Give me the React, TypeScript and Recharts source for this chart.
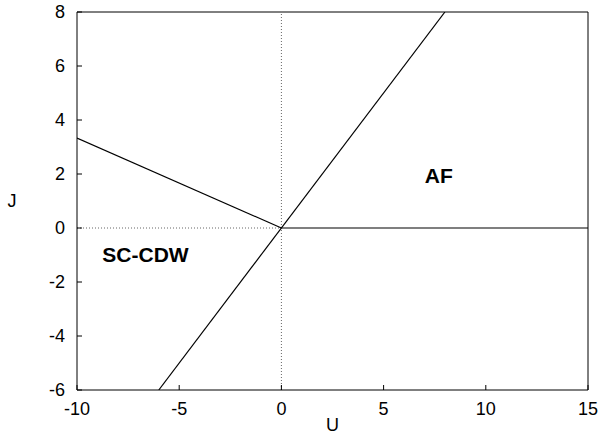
import { ComposedChart, Line, XAxis, YAxis, ReferenceDot } from 'recharts';

// phase boundaries in the (U, J) plane
const boundaryLeft = [{ U: -10, J: 3.33 }, { U: 0, J: 0 }];
const boundaryDiag = [{ U: -6, J: -6 }, { U: 8, J: 8 }];
const boundaryRight = [{ U: 0, J: 0 }, { U: 15, J: 0 }];
const dottedV = [{ U: 0, J: -6 }, { U: 0, J: 8 }];
const dottedH = [{ U: -10, J: 0 }, { U: 0, J: 0 }];

const xTicks = [-10, -5, 0, 5, 10, 15];
const yTicks = [-6, -4, -2, 0, 2, 4, 6, 8];

const FONT = '"Liberation Sans", Arial, sans-serif';
const TICK_LEN = 5;

const BottomTick = (p: any) => (
    <g>
        <line x1={p.x} y1={p.y} x2={p.x} y2={p.y - TICK_LEN} stroke="#000" />
        <text x={p.x} y={p.y + 25} textAnchor="middle" fontSize={18} fontFamily={FONT} fill="#000">{p.payload.value}</text>
    </g>
);
const LeftTick = (p: any) => (
    <g>
        <line x1={p.x} y1={p.y} x2={p.x + TICK_LEN} y2={p.y} stroke="#000" />
        <text x={p.x - 12} y={p.y + 6} textAnchor="end" fontSize={18} fontFamily={FONT} fill="#000">{p.payload.value}</text>
    </g>
);
const TopTick = (p: any) => <line x1={p.x} y1={p.y} x2={p.x} y2={p.y + TICK_LEN} stroke="#000" />;
const RightTick = (p: any) => <line x1={p.x} y1={p.y} x2={p.x - TICK_LEN} y2={p.y} stroke="#000" />;

const regionLabel = (text: string) => (props: any) => {
    const { x, y } = props.viewBox || {};
    return (
        <text x={x} y={y + 8} textAnchor="middle" fontSize={21} fontWeight="bold" fontFamily={FONT} fill="#000">{text}</text>
    );
};

export default function App() {
    return (
        <div style={{ position: 'absolute', left: 0, top: 0, background: '#fff' }}>
            <ComposedChart width={598} height={436} margin={{ top: 11, right: 9, left: 0, bottom: 0 }}>
                <XAxis
                    type="number" dataKey="U" domain={[-10, 15]} ticks={xTicks} allowDataOverflow
                    height={46} tickSize={0} tickMargin={0} tickLine={false}
                    axisLine={{ stroke: '#000' }} tick={BottomTick} interval={0}
                    label={{
                        content: (props: any) => {
                            const vb = props.viewBox;
                            return <text x={vb.x + vb.width / 2} y={vb.y + vb.height - 5} textAnchor="middle" fontSize={18} fontFamily={FONT} fill="#000">U</text>;
                        }
                    }}
                />
                <XAxis
                    xAxisId="top" orientation="top" type="number" domain={[-10, 15]} ticks={xTicks}
                    height={1} tickSize={0} tickMargin={0} tickLine={false}
                    axisLine={{ stroke: '#000' }} tick={TopTick} interval={0}
                />
                <YAxis
                    type="number" domain={[-6, 8]} ticks={yTicks} allowDataOverflow
                    width={77} tickSize={0} tickMargin={0} tickLine={false}
                    axisLine={{ stroke: '#000' }} tick={LeftTick} interval={0}
                    label={{
                        content: (props: any) => {
                            const vb = props.viewBox;
                            return <text x={12} y={vb.y + vb.height / 2 + 6} textAnchor="middle" fontSize={18} fontFamily={FONT} fill="#000">J</text>;
                        }
                    }}
                />
                <YAxis
                    yAxisId="right" orientation="right" type="number" domain={[-6, 8]} ticks={yTicks}
                    width={1} tickSize={0} tickMargin={0} tickLine={false}
                    axisLine={{ stroke: '#000' }} tick={RightTick} interval={0}
                />

                <Line data={dottedV} dataKey="J" stroke="#666" strokeDasharray="1 2" dot={false} isAnimationActive={false} />
                <Line data={dottedH} dataKey="J" stroke="#666" strokeDasharray="1 2" dot={false} isAnimationActive={false} />
                <Line data={boundaryLeft} dataKey="J" stroke="#000" strokeWidth={1.2} dot={false} isAnimationActive={false} />
                <Line data={boundaryDiag} dataKey="J" stroke="#000" strokeWidth={1.2} dot={false} isAnimationActive={false} />
                <Line data={boundaryRight} dataKey="J" stroke="#000" strokeWidth={1.2} dot={false} isAnimationActive={false} />

                <ReferenceDot x={7.7} y={1.96} r={0} stroke="none" fill="none" label={{ content: regionLabel('AF') }} />
                <ReferenceDot x={-6.65} y={-0.96} r={0} stroke="none" fill="none" label={{ content: regionLabel('SC-CDW') }} />
            </ComposedChart>
        </div>
    );
}
